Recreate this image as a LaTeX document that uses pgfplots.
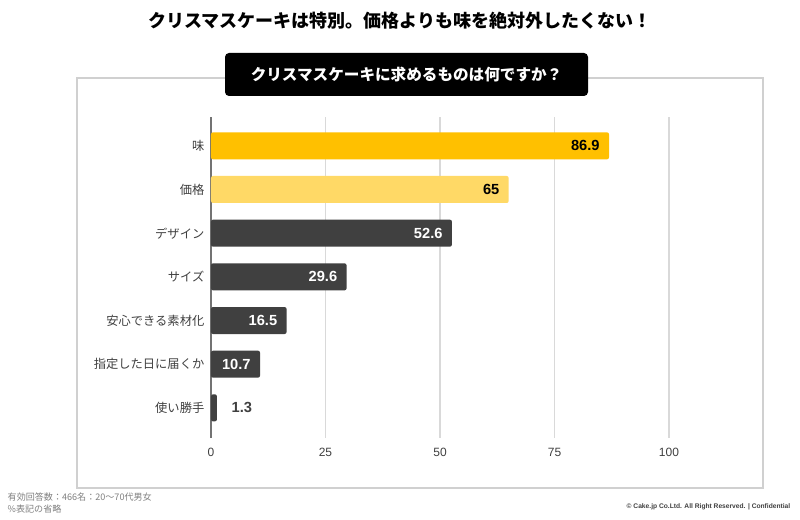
\documentclass[border=0pt]{standalone}
\usepackage{pgfplots}
\pgfplotsset{compat=1.18}
\usepackage{fontspec}
\setmainfont{Noto Sans CJK JP}
\newfontfamily\valfont{Liberation Sans}
\definecolor{gold}{HTML}{FFC000}
\definecolor{lgold}{HTML}{FFD966}
\definecolor{dbar}{HTML}{404040}
\definecolor{tick}{HTML}{404040}
\definecolor{framec}{HTML}{D0D0D0}
\definecolor{gridc}{HTML}{D9D9D9}
\begin{document}
\begin{tikzpicture}
\fill[white] (0pt,0pt) rectangle (600pt,-390pt);
\draw[framec, line width=1.5pt] (57.75pt,-58.5pt) rectangle (572.25pt,-366pt);
\node[font=\fontsize{13.5}{15}\selectfont\bfseries] at (300pt,-15.5pt) {クリスマスケーキは特別。価格よりも味を絶対外したくない！};
\fill[black, rounded corners=3pt] (168.75pt,-39.75pt) rectangle (441pt,-72pt);
\node[white, font=\fontsize{11.7}{13}\selectfont\bfseries] at (304.9pt,-55.9pt) {クリスマスケーキに求めるものは何ですか？};
\begin{axis}[
  at={(158.25pt,-87.75pt)}, anchor=north west,
  scale only axis, width=343.5pt, height=240.75pt,
  xmin=0, xmax=100, ymin=-0.66, ymax=6.69, y dir=reverse,
  axis line style={draw=none},
  major tick length=0pt,
  xtick={25,50,75,100},
  extra x ticks={0},
  extra x tick style={grid style={color=gray!90!black, line width=0.9pt}},
  xmajorgrids, grid style={color=gridc, line width=0.9pt},
  ytick={0,...,6},
  yticklabels={味,価格,デザイン,サイズ,安心できる素材化,指定した日に届くか,使い勝手},
  yticklabel style={font=\fontsize{9.2}{10}\selectfont, text=tick, xshift=-1.5pt},
  xticklabel style={font=\valfont\fontsize{9}{10}\selectfont, text=tick, yshift=-4pt},
  /pgf/number format/assume math mode=true,
  xbar, bar width=20.25pt, bar shift=0pt,
  nodes near coords,
  nodes near coords style={font=\valfont\bfseries\fontsize{11}{12}\selectfont, anchor=east, xshift=-3.5pt},
]
\addplot[fill=gold, draw=none, rounded corners=1.5pt, nodes near coords style={text=black}] coordinates {(86.9,0)};
\addplot[fill=lgold, draw=none, rounded corners=1.5pt, nodes near coords style={text=black}] coordinates {(65,1)};
\addplot[fill=dbar, draw=none, rounded corners=1.5pt, nodes near coords style={text=white}] coordinates {(52.6,2) (29.6,3) (16.5,4) (10.7,5)};
\addplot[fill=dbar, draw=none, rounded corners=1.5pt, nodes near coords style={text=tick, anchor=west, xshift=11pt}] coordinates {(1.3,6)};
\end{axis}
\node[anchor=west, text=gray, font=\fontsize{6.8}{7}\selectfont] at (2.25pt,-372.75pt) {有効回答数：466名：20〜70代男女};
\node[anchor=west, text=gray, font=\fontsize{6.8}{7}\selectfont] at (2.25pt,-381.75pt) {\%表記の省略};
\node[anchor=east, text=tick, font=\valfont\bfseries\fontsize{5}{6}\selectfont] at (596.25pt,-380.25pt) {© Cake.jp Co.Ltd. All Right Reserved. | Confidential};
\end{tikzpicture}
\end{document}
